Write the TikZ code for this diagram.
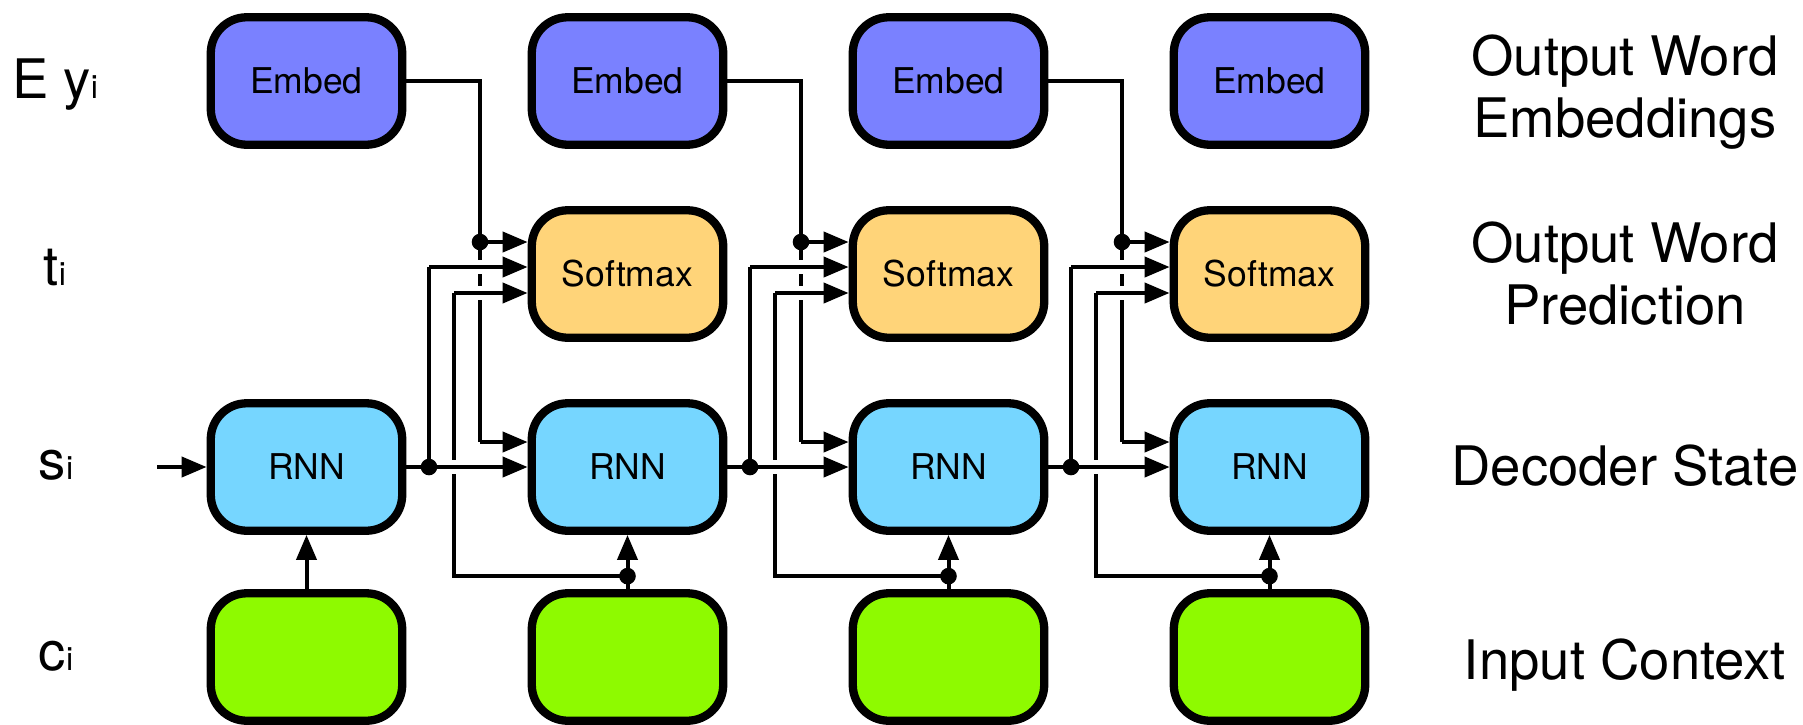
\documentclass[tikz,border=0pt]{standalone}
\usepackage{fontspec}
\setmainfont{TeX Gyre Heros}
\usetikzlibrary{arrows.meta}
\definecolor{orchid}{RGB}{122,129,255}
\definecolor{cantaloupe}{RGB}{255,212,121}
\definecolor{sky}{RGB}{118,214,255}
\definecolor{lime}{RGB}{142,250,0}
\newcommand{\smalli}{{\fontsize{18.4}{20}\selectfont i}}
\begin{document}
\begin{tikzpicture}[x=0.02cm,y=-0.02cm]
\tikzstyle{box}=[draw,line width=0.166cm,rounded corners=0.72cm,minimum width=3.83cm,minimum height=2.55cm,inner sep=0pt,font=\fontsize{20.2}{24}\selectfont]
\tikzstyle{wire}=[line width=0.08cm]
\tikzstyle{arr}=[wire,-{Triangle[length=0.5cm,width=0.4cm]}]
\tikzstyle{gap}=[white,line width=0.2cm]
\tikzstyle{lab}=[font=\fontsize{31}{35.8}\selectfont,align=center,inner sep=0pt]
\useasboundingbox (0,0) rectangle (1803,724);
% row labels
\node[lab,anchor=base] (ley) at (55,98) {E y\smalli};
\node[lab,anchor=base] (lt) at (55,285) {t\smalli};
\node[lab,anchor=base] (ls) at (56,479) {s\smalli};
\node[lab,anchor=base] (lc) at (56,670) {c\smalli};
\node[lab,anchor=north] (rout) at (1625,34) {Output Word\\Embeddings};
\node[lab,anchor=north] (rpred) at (1625,221) {Output Word\\Prediction};
\node[lab,anchor=base] (rdec) at (1625,485) {Decoder State};
\node[lab,anchor=base] (rin) at (1625,679) {Input Context};
% boxes
\node[box,fill=orchid] (e0) at (306.5,81) {Embed};
\node[box,fill=orchid] (e1) at (627.5,81) {Embed};
\node[box,fill=orchid] (e2) at (948.5,81) {Embed};
\node[box,fill=orchid] (e3) at (1269.5,81) {Embed};
\node[box,fill=cantaloupe] (s1) at (627.5,274) {Softmax};
\node[box,fill=cantaloupe] (s2) at (948.5,274) {Softmax};
\node[box,fill=cantaloupe] (s3) at (1269.5,274) {Softmax};
\node[box,fill=sky] (r0) at (306.5,467) {RNN};
\node[box,fill=sky] (r1) at (627.5,467) {RNN};
\node[box,fill=sky] (r2) at (948.5,467) {RNN};
\node[box,fill=sky] (r3) at (1269.5,467) {RNN};
\node[box,fill=lime] (c0) at (306.5,657) {};
\node[box,fill=lime] (c1) at (627.5,657) {};
\node[box,fill=lime] (c2) at (948.5,657) {};
\node[box,fill=lime] (c3) at (1269.5,657) {};
% first step
\coordinate (in) at (157,467);
\draw[arr] (in) -- (r0.west);
\draw[arr] (c0.north) -- (r0.south);
% step 0 -> 1
\coordinate (pa1) at (429,0);
\coordinate (pb1) at (454,0);
\coordinate (pc1) at (480,0);
\coordinate (sa1) at ([yshift=0.64cm]s1.west);
\coordinate (sb1) at ([yshift=0.14cm]s1.west);
\coordinate (sc1) at ([yshift=-0.38cm]s1.west);
\coordinate (ra1) at ([yshift=0.5cm]r1.west);
\coordinate (g1) at ([yshift=0.26cm]c1.north);
\coordinate (xa1) at (pc1 |- sb1);
\coordinate (xb1) at (pc1 |- sc1);
\coordinate (xc1) at (pb1 |- r0.east);
\draw[wire] (e0.east) -| (pc1 |- ra1);
\draw[arr] (pc1 |- ra1) -- (ra1);
\draw[wire] (pa1 |- r0.east) -- (pa1 |- sb1);
\draw[wire] (g1) -| (pb1 |- sc1);
\draw[arr] (c1.north) -- (r1.south);
\draw[gap] ([yshift=0.14cm]xa1) -- ([yshift=-0.14cm]xa1);
\draw[gap] ([yshift=0.14cm]xb1) -- ([yshift=-0.14cm]xb1);
\draw[gap] ([yshift=0.14cm]xc1) -- ([yshift=-0.14cm]xc1);
\draw[arr] (pc1 |- sa1) -- (sa1);
\draw[arr] (pa1 |- sb1) -- (sb1);
\draw[arr] (pb1 |- sc1) -- (sc1);
\draw[arr] (r0.east) -- (r1.west);
\fill (pc1 |- sa1) circle[radius=0.166cm];
\fill (pa1 |- r0.east) circle[radius=0.166cm];
\fill (g1) circle[radius=0.166cm];
% step 1 -> 2
\coordinate (pa2) at (750,0);
\coordinate (pb2) at (775,0);
\coordinate (pc2) at (801,0);
\coordinate (sa2) at ([yshift=0.64cm]s2.west);
\coordinate (sb2) at ([yshift=0.14cm]s2.west);
\coordinate (sc2) at ([yshift=-0.38cm]s2.west);
\coordinate (ra2) at ([yshift=0.5cm]r2.west);
\coordinate (g2) at ([yshift=0.26cm]c2.north);
\coordinate (xa2) at (pc2 |- sb2);
\coordinate (xb2) at (pc2 |- sc2);
\coordinate (xc2) at (pb2 |- r1.east);
\draw[wire] (e1.east) -| (pc2 |- ra2);
\draw[arr] (pc2 |- ra2) -- (ra2);
\draw[wire] (pa2 |- r1.east) -- (pa2 |- sb2);
\draw[wire] (g2) -| (pb2 |- sc2);
\draw[arr] (c2.north) -- (r2.south);
\draw[gap] ([yshift=0.14cm]xa2) -- ([yshift=-0.14cm]xa2);
\draw[gap] ([yshift=0.14cm]xb2) -- ([yshift=-0.14cm]xb2);
\draw[gap] ([yshift=0.14cm]xc2) -- ([yshift=-0.14cm]xc2);
\draw[arr] (pc2 |- sa2) -- (sa2);
\draw[arr] (pa2 |- sb2) -- (sb2);
\draw[arr] (pb2 |- sc2) -- (sc2);
\draw[arr] (r1.east) -- (r2.west);
\fill (pc2 |- sa2) circle[radius=0.166cm];
\fill (pa2 |- r1.east) circle[radius=0.166cm];
\fill (g2) circle[radius=0.166cm];
% step 2 -> 3
\coordinate (pa3) at (1071,0);
\coordinate (pb3) at (1096,0);
\coordinate (pc3) at (1122,0);
\coordinate (sa3) at ([yshift=0.64cm]s3.west);
\coordinate (sb3) at ([yshift=0.14cm]s3.west);
\coordinate (sc3) at ([yshift=-0.38cm]s3.west);
\coordinate (ra3) at ([yshift=0.5cm]r3.west);
\coordinate (g3) at ([yshift=0.26cm]c3.north);
\coordinate (xa3) at (pc3 |- sb3);
\coordinate (xb3) at (pc3 |- sc3);
\coordinate (xc3) at (pb3 |- r2.east);
\draw[wire] (e2.east) -| (pc3 |- ra3);
\draw[arr] (pc3 |- ra3) -- (ra3);
\draw[wire] (pa3 |- r2.east) -- (pa3 |- sb3);
\draw[wire] (g3) -| (pb3 |- sc3);
\draw[arr] (c3.north) -- (r3.south);
\draw[gap] ([yshift=0.14cm]xa3) -- ([yshift=-0.14cm]xa3);
\draw[gap] ([yshift=0.14cm]xb3) -- ([yshift=-0.14cm]xb3);
\draw[gap] ([yshift=0.14cm]xc3) -- ([yshift=-0.14cm]xc3);
\draw[arr] (pc3 |- sa3) -- (sa3);
\draw[arr] (pa3 |- sb3) -- (sb3);
\draw[arr] (pb3 |- sc3) -- (sc3);
\draw[arr] (r2.east) -- (r3.west);
\fill (pc3 |- sa3) circle[radius=0.166cm];
\fill (pa3 |- r2.east) circle[radius=0.166cm];
\fill (g3) circle[radius=0.166cm];
\end{tikzpicture}
\end{document}
